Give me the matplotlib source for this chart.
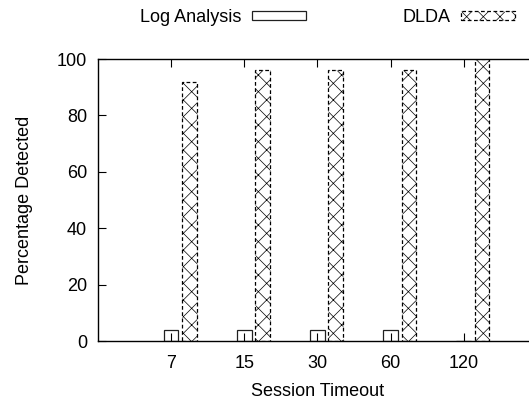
import matplotlib
matplotlib.use("Agg")
import matplotlib.pyplot as plt
import numpy as np
from matplotlib.patches import Patch

plt.rcParams["font.family"] = ["Liberation Sans", "DejaVu Sans"]
plt.rcParams["font.size"] = 13
plt.rcParams["hatch.linewidth"] = 0.5

# Detection rate per session timeout setting
timeouts = ["7", "15", "30", "60", "120"]
log_analysis = [4, 4, 4, 4, 0]
dlda = [92, 96, 96, 96, 100]

fig = plt.figure(figsize=(5.29, 4.0), dpi=100)
ax = fig.add_axes([0.1853, 0.1475, 0.8297, 0.705])

x = np.arange(len(timeouts))
width = 0.2

ax.bar(x, log_analysis, width, color="white", edgecolor="#202020",
       linewidth=0.9, label="Log Analysis")
ax.bar(x + 0.25, dlda, width, color="white", edgecolor="black",
       linewidth=0.9, linestyle=(0, (3, 2)), hatch="xx", label="DLDA")

ax.set_xlim(-1, 5)
ax.set_ylim(0, 100)
ax.set_xticks(x)
ax.set_xticklabels(timeouts)
ax.set_yticks(np.arange(0, 101, 20))

ax.tick_params(direction="in", length=6, width=0.8, top=True, right=True,
               labelsize=13)
ax.tick_params(axis="x", pad=10)
ax.tick_params(axis="y", pad=8)
for s in ax.spines.values():
    s.set_linewidth(1.0)

ax.set_xlabel("Session Timeout", fontsize=13, labelpad=8)
ax.set_ylabel("Percentage Detected", fontsize=13, labelpad=17)

handles = [
    Patch(facecolor="white", edgecolor="#202020", linewidth=0.9),
    Patch(facecolor="white", edgecolor="black", linewidth=0.9,
          linestyle=(0, (3, 2)), hatch="xx"),
]
fig.legend(handles, ["Log Analysis", "DLDA"], ncol=2, markerfirst=False,
           frameon=False, loc="upper left",
           bbox_to_anchor=(140 / 529, 1 - 9 / 400),
           borderpad=0, borderaxespad=0, handlelength=3.0,
           handleheight=0.44, handletextpad=0.6, columnspacing=5.3,
           fontsize=13)

fig.savefig("out.png", dpi=100)
